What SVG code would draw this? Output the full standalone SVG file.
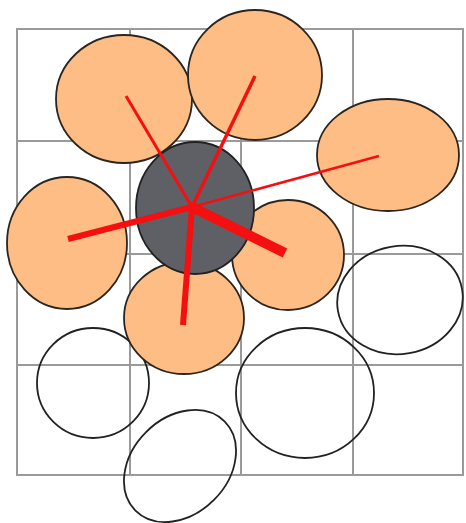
<svg xmlns="http://www.w3.org/2000/svg" width="466" height="523" viewBox="0 0 466 523">
<style>
.grid{stroke:#9a9a9a;stroke-width:2;fill:none}
.peach{fill:#FDBD84;stroke:#2b2520;stroke-width:1.8}
.dark{fill:#5f5f66;stroke:#222;stroke-width:1.8}
.empty{fill:none;stroke:#222;stroke-width:1.8}
.ray{stroke:#f41010;stroke-linecap:butt}
</style>
<rect width="466" height="523" fill="#fff"/>
<g id="grid" class="grid">
<rect x="17" y="29" width="446" height="446"/>
<line x1="130" y1="29" x2="130" y2="475"/>
<line x1="241" y1="29" x2="241" y2="475"/>
<line x1="353" y1="29" x2="353" y2="475"/>
<line x1="17" y1="141" x2="463" y2="141"/>
<line x1="17" y1="254" x2="463" y2="254"/>
<line x1="17" y1="365" x2="463" y2="365"/>
</g>
<g id="n9"><ellipse class="empty" cx="93" cy="383" rx="56" ry="55"/></g>
<g id="n10"><ellipse class="empty" cx="305" cy="393" rx="69" ry="65"/></g>
<g id="n8"><ellipse class="empty" cx="400" cy="300" rx="63" ry="54" transform="rotate(-10 400 300)"/></g>
<g id="n11"><ellipse class="empty" cx="180" cy="466" rx="63" ry="48" transform="rotate(-45 180 466)"/></g>
<g id="n1"><ellipse class="peach" cx="124" cy="99" rx="68" ry="64"/></g>
<g id="n2"><ellipse class="peach" cx="255" cy="75" rx="67" ry="65"/></g>
<g id="n3"><ellipse class="peach" cx="388" cy="155" rx="71" ry="56"/></g>
<g id="n5"><ellipse class="peach" cx="67" cy="243" rx="60" ry="66"/></g>
<g id="n6"><ellipse class="peach" cx="288" cy="255" rx="56" ry="55"/></g>
<g id="n7"><ellipse class="peach" cx="184" cy="318" rx="60" ry="56"/></g>
<g id="n4"><ellipse class="dark" cx="195" cy="208" rx="59" ry="66"/></g>
<g id="connectors" class="ray">
<line x1="192" y1="207" x2="126" y2="96" stroke-width="3"/>
<line x1="192" y1="207" x2="255" y2="76" stroke-width="3.5"/>
<line x1="192" y1="207" x2="379" y2="156" stroke-width="2.5"/>
<line x1="192" y1="207" x2="68" y2="239" stroke-width="6"/>
<line x1="192" y1="207" x2="183" y2="325" stroke-width="6"/>
<line x1="192" y1="207" x2="285" y2="253" stroke-width="10"/>
<circle cx="192" cy="207" r="5" fill="#f41010" stroke="none"/>
</g>
</svg>
